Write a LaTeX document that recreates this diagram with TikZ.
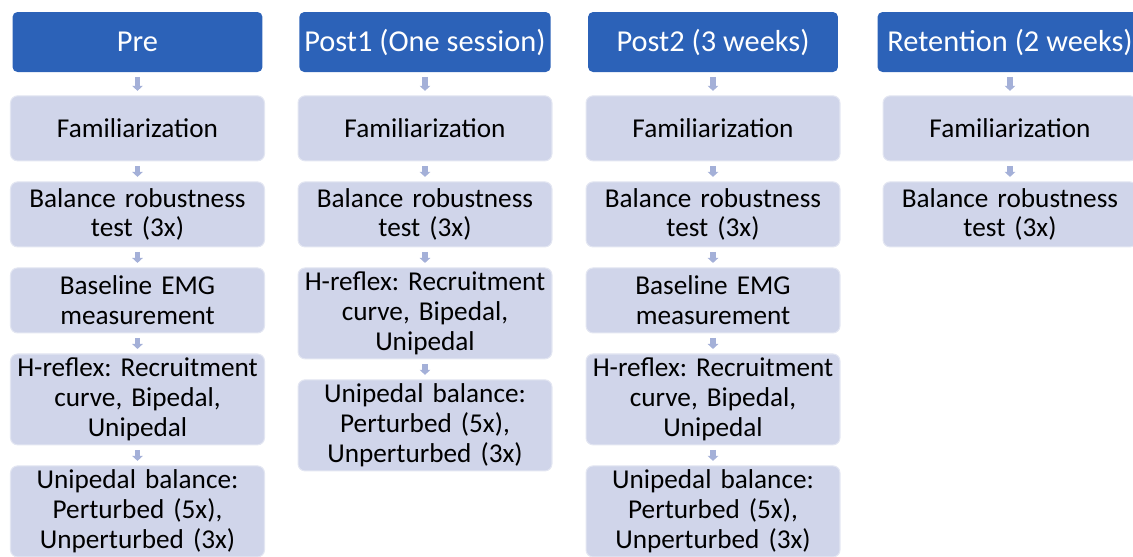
\documentclass[tikz,border=0pt]{standalone}
\usepackage{fontspec}
\setmainfont{Carlito}
\frenchspacing
\usetikzlibrary{positioning,arrows.meta}
\definecolor{hdrblue}{RGB}{44,98,184}
\definecolor{stepfill}{RGB}{208,213,234}
\definecolor{linkblue}{RGB}{164,176,216}
\tikzset{
  phase/.style={fill=hdrblue, text=white, rounded corners=0.1cm,
    minimum width=5cm, minimum height=1.2cm, inner xsep=0.1cm,
    font=\fontsize{17.3}{19}\selectfont},
  stepbox/.style={fill=stepfill, draw=stepfill!60!white, line width=0.6pt,
    rounded corners=0.14cm, text width=4.9cm, align=center,
    minimum height=1.3cm, inner xsep=0.09cm, inner ysep=0.08cm,
    font=\fontsize{15.5}{17}\selectfont},
  link/.style={linkblue, line width=0.11cm, shorten <=0.09cm, shorten >=0.09cm,
    -{Triangle[width=0.21cm,length=0.1cm]}}
}
\begin{document}
\begin{tikzpicture}[x=0.02cm,y=-0.02cm]
  \path[use as bounding box,clip] (0,0) rectangle (1133,556);
  % pre
  \node[phase] (pre) at (137.5,42) {Pre};
  \node[stepbox, below=0.46cm of pre] (prefam) {Familiarization};
  \node[stepbox, below=0.4cm of prefam] (prebal) {Balance robustness\\test (3x)};
  \node[stepbox, below=0.4cm of prebal] (preemg) {Baseline EMG\\measurement};
  \node[stepbox, below=0.4cm of preemg] (prehr) {H-reflex: Recruitment\\curve, Bipedal,\\Unipedal};
  \node[stepbox, below=0.4cm of prehr] (preuni) {Unipedal balance:\\Perturbed (5x),\\Unperturbed (3x)};
  \draw[link] (pre) -- (prefam);
  \draw[link] (prefam) -- (prebal);
  \draw[link] (prebal) -- (preemg);
  \draw[link] (preemg) -- (prehr);
  \draw[link] (prehr) -- (preuni);
  % post1
  \node[phase] (posta) at (425,42) {Post1 (One session)};
  \node[stepbox, below=0.46cm of posta] (postafam) {Familiarization};
  \node[stepbox, below=0.4cm of postafam] (postabal) {Balance robustness\\test (3x)};
  \node[stepbox, below=0.4cm of postabal] (postahr) {H-reflex: Recruitment\\curve, Bipedal,\\Unipedal};
  \node[stepbox, below=0.4cm of postahr] (postauni) {Unipedal balance:\\Perturbed (5x),\\Unperturbed (3x)};
  \draw[link] (posta) -- (postafam);
  \draw[link] (postafam) -- (postabal);
  \draw[link] (postabal) -- (postahr);
  \draw[link] (postahr) -- (postauni);
  % post2
  \node[phase] (postb) at (713,42) {Post2 (3 weeks)};
  \node[stepbox, below=0.46cm of postb] (postbfam) {Familiarization};
  \node[stepbox, below=0.4cm of postbfam] (postbbal) {Balance robustness\\test (3x)};
  \node[stepbox, below=0.4cm of postbbal] (postbemg) {Baseline EMG\\measurement};
  \node[stepbox, below=0.4cm of postbemg] (postbhr) {H-reflex: Recruitment\\curve, Bipedal,\\Unipedal};
  \node[stepbox, below=0.4cm of postbhr] (postbuni) {Unipedal balance:\\Perturbed (5x),\\Unperturbed (3x)};
  \draw[link] (postb) -- (postbfam);
  \draw[link] (postbfam) -- (postbbal);
  \draw[link] (postbbal) -- (postbemg);
  \draw[link] (postbemg) -- (postbhr);
  \draw[link] (postbhr) -- (postbuni);
  % retention
  \node[phase, minimum width=5.3cm] (ret) at (1010,42) {Retention (2 weeks)};
  \node[stepbox, below=0.46cm of ret] (retfam) {Familiarization};
  \node[stepbox, below=0.4cm of retfam] (retbal) {Balance robustness\\test (3x)};
  \draw[link] (ret) -- (retfam);
  \draw[link] (retfam) -- (retbal);
\end{tikzpicture}
\end{document}
